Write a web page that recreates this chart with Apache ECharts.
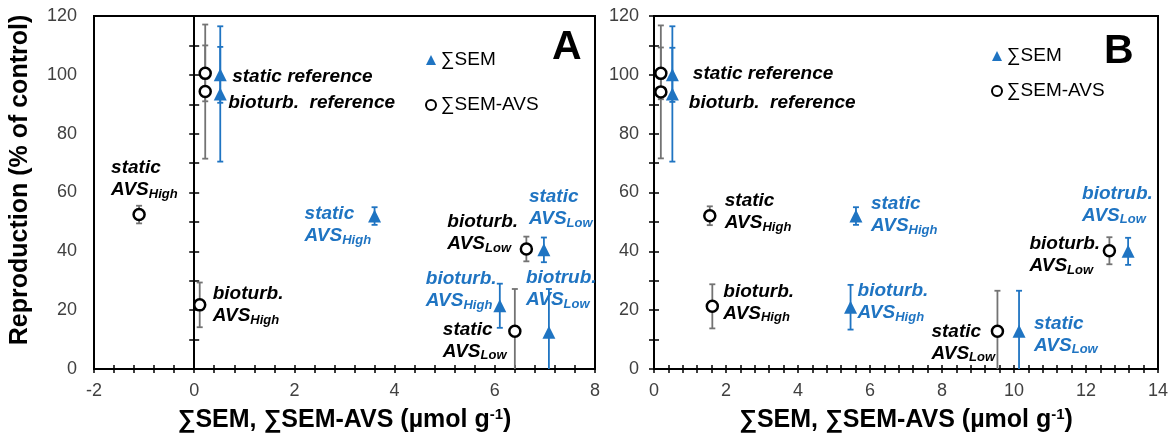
<!DOCTYPE html>
<html>
<head>
<meta charset="utf-8">
<title>Reproduction vs SEM</title>
<script src="https://cdn.jsdelivr.net/npm/echarts@6/dist/echarts.min.js"></script>
<style>
  html, body { margin: 0; padding: 0; background: #fff; }
  #chart { width: 1172px; height: 439px; }
</style>
</head>
<body>
<div id="chart"></div>
<script>
// order of points: static ref, bioturb ref, static High, bioturb High, static Low, bioturb Low
// panel A
var semXA = [0.52, 0.52, 3.6, 6.1, 6.98, 7.08];
var semYA = [100, 93.5, 52, 21.5, 40.5, 12.5];
var semErrA = [9.5, 23, 3, 7.5, 4.2, 14.7];
var avsXA = [0.22, 0.22, -1.1, 0.11, 6.4, 6.63];
var avsYA = [100.5, 94.3, 52.5, 21.8, 12.8, 40.8];
var avsErrA = [9.5, 22.8, 3, 7.6, 14.4, 4.2];
// panel B
var semXB = [0.51, 0.51, 5.61, 5.46, 10.14, 13.17];
var semYB = [100, 93.5, 52, 21, 12.8, 40];
var semErrB = [9.2, 23, 3, 7.6, 13.8, 4.6];
var avsXB = [0.19, 0.19, 1.55, 1.62, 9.54, 12.65];
var avsYB = [100.5, 94.2, 52.1, 21.3, 12.8, 40.2];
var avsErrB = [8.8, 22.6, 3.2, 7.5, 13.8, 4.6];

// point labels ("_" starts a subscript)
var semNamesA = ['', '', 'static\nAVS_High', 'bioturb.\nAVS_High', 'static\nAVS_Low', 'biotrub.\nAVS_Low'];
var avsNamesA = ['static reference', 'bioturb.  reference', 'static\nAVS_High', 'bioturb.\nAVS_High', 'static\nAVS_Low', 'bioturb.\nAVS_Low'];
var semNamesB = ['', '', 'static\nAVS_High', 'bioturb.\nAVS_High', 'static\nAVS_Low', 'biotrub.\nAVS_Low'];
var avsNamesB = ['static reference', 'bioturb.  reference', 'static\nAVS_High', 'bioturb.\nAVS_High', 'static\nAVS_Low', 'bioturb.\nAVS_Low'];

// label placement, px from the marker: [left edge, middle]
var semOffA = [[0, 0], [0, 0], [-70, 9], [-74, -16], [-15, -42], [-23, -43]];
var avsOffA = [[27, 3], [23, 11], [-28, -36], [13, 0], [-72, 9], [-79, -16]];
var semOffB = [[0, 0], [0, 0], [15, -1], [7, -5], [15, 3], [-46, -47]];
var avsOffB = [[32, 0], [28, 11], [15, -4], [11, -4], [-66, 11], [-80, 4]];

var xRangeA = [-2, 8];
var xRangeB = [0, 14];
var yTicks = [0, 120, 20];
var legendNames = ['\u2211SEM', '\u2211SEM-AVS'];
var xTitle = '\u2211SEM, \u2211SEM-AVS (\u00b5mol g{sup|-1})';
var yTitle = 'Reproduction (% of control)';

var FONT = 'Liberation Sans, Arial, sans-serif';
var BLUE = '#1f74c2';
var GRAY = '#737373';

function fmt(t) {
  return t.split('\n').map(function (line) {
    var p = line.split('_');
    return '{n|' + p[0] + '}' + (p[1] ? '{s|' + p[1] + '}' : '');
  }).join('\n');
}

function labelRich(color) {
  return {
    n: { fontSize: 19, fontWeight: 'bold', fontStyle: 'italic', fontFamily: FONT, lineHeight: 22, color: color },
    s: { fontSize: 13, fontWeight: 'bold', fontStyle: 'italic', fontFamily: FONT, lineHeight: 10, verticalAlign: 'bottom', color: color }
  };
}

function renderErr(params, api) {
  var x = api.value(0);
  var lo = api.coord([x, api.value(1)]);
  var hi = api.coord([x, api.value(2)]);
  var st = { stroke: api.visual('color'), lineWidth: 1.8 };
  var w = 3;
  return {
    type: 'group',
    children: [
      { type: 'line', shape: { x1: lo[0], y1: lo[1], x2: hi[0], y2: hi[1] }, style: st },
      { type: 'line', shape: { x1: lo[0] - w, y1: lo[1], x2: lo[0] + w, y2: lo[1] }, style: st },
      { type: 'line', shape: { x1: hi[0] - w, y1: hi[1], x2: hi[0] + w, y2: hi[1] }, style: st }
    ]
  };
}

function errData(xs, ys, es) {
  return xs.map(function (x, i) { return [x, ys[i] - es[i], ys[i] + es[i]]; });
}

function pointData(xs, ys, names, offs) {
  return xs.map(function (x, i) {
    return {
      value: [x, ys[i]],
      label: { show: names[i] !== '', formatter: fmt(names[i] || ' '), offset: offs[i] }
    };
  });
}

function xAxes(p, range) {
  var ls = { color: '#000', width: 1.5 };
  return [{
    gridIndex: p, type: 'value', min: range[0], max: range[1], interval: 2, position: 'bottom',
    axisLine: { onZero: false, lineStyle: { color: '#000', width: 2 } },
    axisTick: { show: true, inside: false, length: 4, lineStyle: ls },
    minorTick: { show: true, splitNumber: 5, length: 4, lineStyle: ls },
    splitLine: { show: false },
    axisLabel: { margin: 13, fontSize: 18, color: '#404040', fontFamily: FONT },
    name: xTitle, nameLocation: 'middle', nameGap: 38,
    nameTextStyle: {
      fontSize: 25, fontWeight: 'bold', fontFamily: FONT, color: '#000', lineHeight: 27,
      rich: { sup: { fontSize: 15, fontWeight: 'bold', fontFamily: FONT, color: '#000', lineHeight: 14, verticalAlign: 'top' } }
    }
  }, {
    gridIndex: p, type: 'value', min: range[0], max: range[1], interval: 2, position: 'bottom',
    axisLine: { show: false, onZero: false },
    axisTick: { show: true, inside: true, length: 4, lineStyle: ls },
    minorTick: { show: true, splitNumber: 5, length: 4, lineStyle: ls },
    splitLine: { show: false },
    axisLabel: { show: false }
  }];
}

function yAxes(p, margin) {
  var ls = { color: '#000', width: 1.5 };
  var base = { gridIndex: p, type: 'value', min: yTicks[0], max: yTicks[1], interval: yTicks[2], position: 'left', splitLine: { show: false } };
  return [
    Object.assign({}, base, {
      axisLine: { show: true, onZero: false, lineStyle: { color: '#000', width: 2 } },
      axisTick: { show: false },
      axisLabel: { margin: margin, fontSize: 18, color: '#404040', fontFamily: FONT }
    }),
    Object.assign({}, base, {
      axisLine: { show: true, onZero: true, lineStyle: { color: '#000', width: 2 } },
      axisTick: { show: true, inside: false, length: 5, lineStyle: ls },
      minorTick: { show: true, splitNumber: 2, length: 5, lineStyle: ls },
      axisLabel: { show: false }
    }),
    Object.assign({}, base, {
      axisLine: { show: true, onZero: true, lineStyle: { color: '#000', width: 2 } },
      axisTick: { show: true, inside: true, length: 5, lineStyle: ls },
      minorTick: { show: true, splitNumber: 2, length: 5, lineStyle: ls },
      axisLabel: { show: false }
    })
  ];
}

function panelSeries(xi, yi, semX, semY, semE, avsX, avsY, avsE, semN, avsN, semO, avsO) {
  return [
    { name: 'err1', type: 'custom', xAxisIndex: xi, yAxisIndex: yi, renderItem: renderErr, clip: true,
      itemStyle: { color: GRAY }, encode: { x: 0, y: [1, 2] }, data: errData(avsX, avsY, avsE), z: 1 },
    { name: 'err2', type: 'custom', xAxisIndex: xi, yAxisIndex: yi, renderItem: renderErr, clip: true,
      itemStyle: { color: BLUE }, encode: { x: 0, y: [1, 2] }, data: errData(semX, semY, semE), z: 1 },
    { name: legendNames[0], type: 'scatter', xAxisIndex: xi, yAxisIndex: yi, symbol: 'triangle', symbolSize: 13,
      itemStyle: { color: BLUE, opacity: 1 }, z: 3,
      label: { position: 'inside', align: 'left', verticalAlign: 'middle', rich: labelRich(BLUE) },
      data: pointData(semX, semY, semN, semO) },
    { name: legendNames[1], type: 'scatter', xAxisIndex: xi, yAxisIndex: yi, symbol: 'circle', symbolSize: 11,
      itemStyle: { color: '#fff', borderColor: '#000', borderWidth: 2.5, opacity: 1 }, z: 4,
      label: { position: 'inside', align: 'left', verticalAlign: 'middle', rich: labelRich('#000') },
      data: pointData(avsX, avsY, avsN, avsO) }
  ];
}

var chart = echarts.init(document.getElementById('chart'));

var legendStyle = { fontSize: 19, fontFamily: FONT, color: '#000', lineHeight: 20 };

var option = {
  animation: false,
  grid: [
    { left: 94, top: 16, width: 501, height: 354.5, show: true, borderColor: '#000', borderWidth: 2, backgroundColor: 'transparent' },
    { left: 654, top: 16, width: 504, height: 354.5, show: true, borderColor: '#000', borderWidth: 2, backgroundColor: 'transparent' }
  ],
  legend: [
    { data: legendNames, orient: 'vertical', left: 420, top: 45, itemGap: 25, itemWidth: 10, itemHeight: 10, textStyle: legendStyle, selectedMode: false },
    { data: legendNames, orient: 'vertical', left: 986, top: 41, itemGap: 15, itemWidth: 10, itemHeight: 10, textStyle: legendStyle, selectedMode: false }
  ],
  xAxis: xAxes(0, xRangeA).concat(xAxes(1, xRangeB)),
  yAxis: yAxes(0, 17).concat(yAxes(1, 15)),
  graphic: [
    { type: 'text', x: 20, y: 180, rotation: Math.PI / 2,
      style: { text: yTitle, font: 'bold 25px ' + FONT, fill: '#000', align: 'center', verticalAlign: 'middle' } },
    { type: 'text', x: 552, y: 27, style: { text: 'A', font: 'bold 41px ' + FONT, fill: '#000' } },
    { type: 'text', x: 1104, y: 31, style: { text: 'B', font: 'bold 41px ' + FONT, fill: '#000' } }
  ],
  series: panelSeries(0, 0, semXA, semYA, semErrA, avsXA, avsYA, avsErrA, semNamesA, avsNamesA, semOffA, avsOffA)
    .concat(panelSeries(2, 3, semXB, semYB, semErrB, avsXB, avsYB, avsErrB, semNamesB, avsNamesB, semOffB, avsOffB))
};

chart.setOption(option);
window.addEventListener('resize', function () { chart.resize(); });
</script>
</body>
</html>
